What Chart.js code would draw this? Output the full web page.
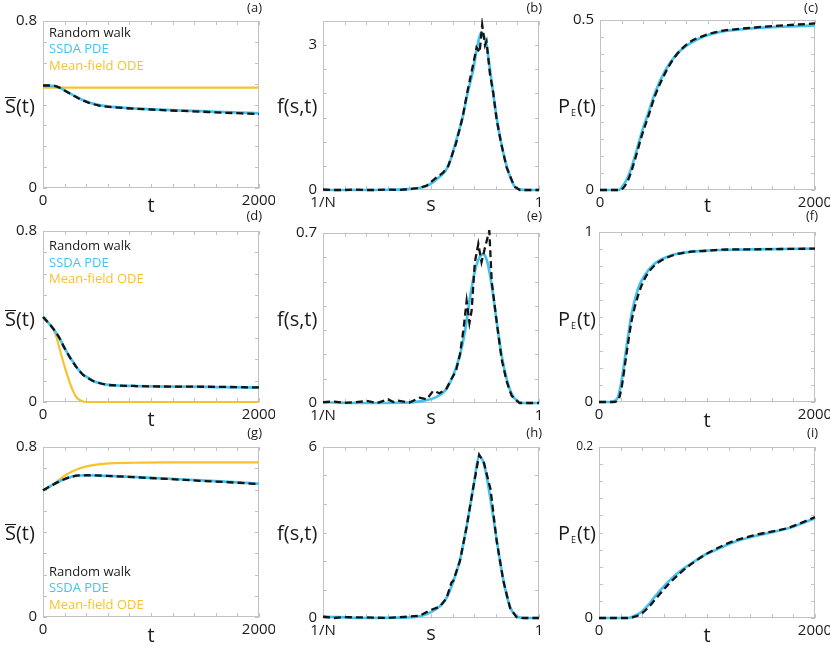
<!DOCTYPE html>
<html><head><meta charset="utf-8">
<script src="https://cdn.jsdelivr.net/npm/chart.js@4.4.1/dist/chart.umd.min.js"></script>
<style>
html,body{margin:0;padding:0;background:#fff}
#wrap{position:relative;width:830px;height:649px;overflow:hidden;font-family:'Open Sans',sans-serif;color:#1a1a1a}
#wrap canvas{position:absolute}
.tx{position:absolute;white-space:nowrap;line-height:1}
.ov{display:inline-block;border-top:1.4px solid #1a1a1a;line-height:0.72em;padding-top:1px}
sub{font-size:9px;vertical-align:-3px;line-height:0;margin:0 1px 0 1px}
</style></head><body><div id="wrap"></div>
<script>
// ---------------- DATA ----------------
const legendNames = ['Random walk', 'SSDA PDE', 'Mean-field ODE'];
const panelTags = ['(a)', '(b)', '(c)', '(d)', '(e)', '(f)', '(g)', '(h)', '(i)'];
const tTickValues = [0, 2000];
const tTickText = ['0', '2000'];
const sTickValues = [0, 1];
const sTickText = ['1/N', '1'];

// (a) mean switching rate vs t
const aT    = [0, 50, 108, 160, 216, 278, 330, 371, 420, 464, 520, 587, 700, 835, 1000, 1144, 1300, 1453, 1600, 1762, 1900, 2000];
const aSSDA = [0.489, 0.490, 0.488, 0.479, 0.463, 0.445, 0.431, 0.421, 0.411, 0.404, 0.397, 0.392, 0.386, 0.381, 0.377, 0.374, 0.371, 0.368, 0.365, 0.362, 0.360, 0.358];
const aWalk = [0.491, 0.491, 0.489, 0.479, 0.462, 0.444, 0.429, 0.419, 0.409, 0.402, 0.395, 0.390, 0.385, 0.380, 0.376, 0.372, 0.369, 0.366, 0.362, 0.359, 0.356, 0.354];
const aOdeT = [0, 2000];
const aODE  = [0.481, 0.481];

// (b) distribution f(s,t)
const bS     = [0, 0.15, 0.3, 0.4, 0.44, 0.479, 0.525, 0.58, 0.615, 0.646, 0.669, 0.696, 0.711, 0.734, 0.757, 0.773, 0.788, 0.804, 0.824, 0.85, 0.886, 0.912, 0.95, 1];
const bSSDA  = [0, 0, 0.005, 0.02, 0.04, 0.08, 0.22, 0.5, 1.0, 1.5, 2.0, 2.5, 2.9, 3.26, 3.0, 2.5, 2.0, 1.5, 1.0, 0.5, 0.08, 0.01, 0, 0];
const bWalkS = [0, 0.05, 0.1, 0.15, 0.2, 0.25, 0.3, 0.35, 0.4, 0.44, 0.48, 0.52, 0.556, 0.58, 0.615, 0.646, 0.669, 0.696, 0.711, 0.725, 0.737, 0.75, 0.757, 0.773, 0.788, 0.804, 0.824, 0.85, 0.886, 0.912, 0.95, 1];
const bWalk  = [0.01, 0, 0, 0.01, 0, 0, 0.01, 0, 0.02, 0.04, 0.09, 0.24, 0.36, 0.5, 0.95, 1.5, 2.05, 2.62, 2.95, 2.85, 3.42, 3.0, 3.08, 2.4, 2.02, 1.45, 0.98, 0.47, 0.07, 0, 0, 0];

// (c) P_E(t)
const cT    = [0, 100, 171, 202, 264, 326, 388, 450, 512, 605, 698, 822, 977, 1132, 1300, 1442, 1600, 1752, 2000];
const cSSDA = [0, 0, 0, 0.007, 0.041, 0.100, 0.169, 0.227, 0.286, 0.350, 0.394, 0.428, 0.453, 0.466, 0.472, 0.476, 0.479, 0.481, 0.484];
const cWalk = [0, 0, 0, 0.002, 0.031, 0.090, 0.159, 0.217, 0.277, 0.343, 0.392, 0.432, 0.455, 0.468, 0.474, 0.478, 0.482, 0.485, 0.490];

// (d)
const dT    = [0, 93, 155, 185, 216, 247, 278, 309, 340, 371, 420, 464, 520, 587, 700, 835, 1000, 1300, 1600, 2000];
const dSSDA = [0.398, 0.344, 0.297, 0.266, 0.238, 0.211, 0.188, 0.164, 0.145, 0.128, 0.113, 0.098, 0.089, 0.081, 0.077, 0.075, 0.073, 0.072, 0.070, 0.067];
const dWalk = [0.398, 0.344, 0.297, 0.266, 0.237, 0.210, 0.187, 0.163, 0.144, 0.127, 0.111, 0.098, 0.089, 0.081, 0.077, 0.075, 0.073, 0.072, 0.071, 0.068];
const dOdeT = [0, 93, 124, 170, 216, 263, 309, 355, 402, 500, 2000];
const dODE  = [0.398, 0.344, 0.305, 0.219, 0.140, 0.070, 0.023, 0.006, 0, 0, 0];

// (e)
const eS     = [0, 0.2, 0.35, 0.448, 0.526, 0.572, 0.603, 0.634, 0.657, 0.68, 0.703, 0.723, 0.742, 0.76, 0.781, 0.804, 0.827, 0.85, 0.873, 0.9, 0.927, 1];
const eSSDA  = [0.003, 0, 0.001, 0.007, 0.025, 0.059, 0.114, 0.197, 0.293, 0.431, 0.542, 0.597, 0.613, 0.583, 0.486, 0.335, 0.197, 0.100, 0.039, 0.007, 0, 0];
const eWalkS = [0, 0.054, 0.1, 0.209, 0.25, 0.301, 0.325, 0.348, 0.4, 0.448, 0.48, 0.51, 0.54, 0.572, 0.595, 0.615, 0.634, 0.65, 0.665, 0.678, 0.688, 0.703, 0.719, 0.734, 0.75, 0.77, 0.781, 0.804, 0.827, 0.85, 0.873, 0.91, 0.95, 1];
const eWalk  = [0.004, 0.006, 0, 0.008, 0, 0.015, 0.004, 0.010, 0.002, 0.022, 0.015, 0.050, 0.040, 0.060, 0.100, 0.130, 0.200, 0.300, 0.420, 0.330, 0.380, 0.580, 0.655, 0.580, 0.640, 0.710, 0.500, 0.335, 0.180, 0.090, 0.030, 0, 0, 0];

// (f)
const fT    = [0, 100, 130, 176, 207, 253, 300, 362, 423, 516, 671, 825, 1000, 1135, 1400, 1700, 2000];
const fSSDA = [0, 0, 0.003, 0.029, 0.118, 0.314, 0.510, 0.667, 0.745, 0.814, 0.863, 0.882, 0.890, 0.894, 0.898, 0.900, 0.902];
const fWalk = [0, 0, 0, 0.010, 0.078, 0.275, 0.470, 0.627, 0.725, 0.804, 0.860, 0.882, 0.890, 0.896, 0.898, 0.900, 0.902];

// (g)
const gT    = [0, 93, 185, 278, 402, 587, 835, 1144, 1453, 1762, 2000];
const gSSDA = [0.596, 0.623, 0.646, 0.662, 0.667, 0.664, 0.659, 0.651, 0.643, 0.635, 0.627];
const gWalk = [0.596, 0.623, 0.646, 0.662, 0.667, 0.664, 0.658, 0.650, 0.641, 0.633, 0.625];
const gODE  = [0.596, 0.623, 0.659, 0.687, 0.709, 0.722, 0.726, 0.728, 0.728, 0.728, 0.728];

// (h)
const hS     = [0, 0.2, 0.35, 0.448, 0.495, 0.541, 0.572, 0.603, 0.634, 0.665, 0.696, 0.723, 0.745, 0.773, 0.804, 0.835, 0.866, 0.896, 0.927, 1];
const hSSDA  = [0.05, 0, 0.01, 0.06, 0.19, 0.41, 0.71, 1.28, 2.04, 3.22, 4.58, 5.65, 5.41, 4.29, 2.75, 1.33, 0.39, 0.06, 0, 0];
const hWalkS = [0, 0.05, 0.1, 0.2, 0.3, 0.4, 0.448, 0.495, 0.541, 0.572, 0.595, 0.603, 0.634, 0.665, 0.696, 0.723, 0.745, 0.776, 0.804, 0.835, 0.866, 0.896, 0.927, 1];
const hWalk  = [0.05, 0, 0.03, 0.02, 0, 0.05, 0.08, 0.27, 0.40, 0.70, 1.25, 1.30, 2.00, 3.20, 4.60, 5.73, 5.45, 4.50, 2.70, 1.30, 0.35, 0.03, 0, 0];

// (i)
const iT    = [0, 150, 269, 331, 393, 454, 516, 640, 764, 887, 995, 1134, 1258, 1443, 1753, 2000];
const iSSDA = [0, 0, 0, 0.0027, 0.0070, 0.0149, 0.0247, 0.0423, 0.0560, 0.0665, 0.0748, 0.0826, 0.0892, 0.0959, 0.1049, 0.1166];
const iWalk = [0, 0, 0, 0.0015, 0.0050, 0.0120, 0.0210, 0.0390, 0.0540, 0.0660, 0.0750, 0.0840, 0.0905, 0.0970, 0.1055, 0.1180];

// ---------------- STYLE / LAYOUT ----------------
const COL = {walk: '#141414', ssda: '#45c3ef', ode: '#f8c22f', text: '#1a1a1a', frame: '#c2c2c2'};
Chart.defaults.font.family = "'Open Sans', sans-serif";

const tAxis = {min: 0, max: 2000, step: 200, vals: tTickValues, text: tTickText};
const sAxis = {min: 0, max: 1, step: 0.1, vals: sTickValues, text: sTickText};

const panels = [
  {left: 0,   top: 0,   w: 275, h: 215, area: [43, 21, 259, 188], x: tAxis,
   y: {min: 0, max: 0.8, step: 0.1, vals: [0, 0.8], text: ['0', '0.8']},
   series: [['walk', aT, aWalk], ['ssda', aT, aSSDA], ['ode', aOdeT, aODE]]},
  {left: 275, top: 0,   w: 280, h: 215, area: [48, 21, 264, 190], x: sAxis,
   y: {min: 0, max: 3.5, step: 0.5, vals: [0, 3], text: ['0', '3']},
   series: [['walkN', bWalkS, bWalk], ['ssda', bS, bSSDA]]},
  {left: 555, top: 0,   w: 275, h: 215, area: [45, 20, 260, 190], x: tAxis,
   y: {min: 0, max: 0.5, step: 0.05, vals: [0, 0.5], text: ['0', '0.5']},
   series: [['walk', cT, cWalk], ['ssda', cT, cSSDA]]},
  {left: 0,   top: 215, w: 275, h: 215, area: [43, 16, 259, 187], x: tAxis,
   y: {min: 0, max: 0.8, step: 0.1, vals: [0, 0.8], text: ['0', '0.8']},
   series: [['walk', dT, dWalk], ['ssda', dT, dSSDA], ['ode', dOdeT, dODE]]},
  {left: 275, top: 215, w: 280, h: 215, area: [48, 18, 264, 188], x: sAxis,
   y: {min: 0, max: 0.7, step: 0.1, vals: [0, 0.7], text: ['0', '0.7']},
   series: [['walkN', eWalkS, eWalk], ['ssda', eS, eSSDA]]},
  {left: 555, top: 215, w: 275, h: 215, area: [44, 17, 260, 187], x: tAxis,
   y: {min: 0, max: 1, step: 0.1, vals: [0, 1], text: ['0', '1']},
   series: [['walk', fT, fWalk], ['ssda', fT, fSSDA]]},
  {left: 0,   top: 430, w: 275, h: 219, area: [43, 17, 259, 187], x: tAxis,
   y: {min: 0, max: 0.8, step: 0.1, vals: [0, 0.8], text: ['0', '0.8']},
   series: [['walk', gT, gWalk], ['ssda', gT, gSSDA], ['ode', gT, gODE]]},
  {left: 275, top: 430, w: 280, h: 219, area: [48, 17, 264, 188], x: sAxis,
   y: {min: 0, max: 6, step: 1, vals: [0, 6], text: ['0', '6']},
   series: [['walkN', hWalkS, hWalk], ['ssda', hS, hSSDA]]},
  {left: 555, top: 430, w: 275, h: 219, area: [44, 17, 260, 188], x: tAxis,
   y: {min: 0, max: 0.2, step: 0.02, vals: [0, 0.2], text: ['0', '0.2'], smallTop: true},
   series: [['walk', iT, iWalk], ['ssda', iT, iSSDA]]}
];

const seriesStyle = {
  walk:  {borderColor: COL.walk, borderWidth: 2.3, borderDash: [7, 4], cubicInterpolationMode: 'monotone'},
  walkN: {borderColor: COL.walk, borderWidth: 2.3, borderDash: [7, 4], tension: 0},
  ssda:  {borderColor: COL.ssda, borderWidth: 2.7, cubicInterpolationMode: 'monotone'},
  ode:   {borderColor: COL.ode,  borderWidth: 2.2, cubicInterpolationMode: 'monotone'}
};

const framePlugin = {
  id: 'frame',
  beforeDatasetsDraw(chart) {
    const {ctx, chartArea: a, scales: {x, y}} = chart;
    ctx.save();
    ctx.strokeStyle = COL.frame;
    ctx.lineWidth = 1;
    ctx.strokeRect(a.left + 0.5, a.top + 0.5, a.right - a.left - 1, a.bottom - a.top - 1);
    ctx.beginPath();
    const L = 4;
    x.ticks.forEach(t => {
      const p = Math.round(x.getPixelForValue(t.value)) + 0.5;
      ctx.moveTo(p, a.top); ctx.lineTo(p, a.top + L);
      ctx.moveTo(p, a.bottom); ctx.lineTo(p, a.bottom - L);
    });
    y.ticks.forEach(t => {
      const p = Math.round(y.getPixelForValue(t.value)) + 0.5;
      ctx.moveTo(a.left, p); ctx.lineTo(a.left + L, p);
      ctx.moveTo(a.right, p); ctx.lineTo(a.right - L, p);
    });
    ctx.stroke();
    ctx.restore();
  }
};

function labelFor(ax, v) {
  const k = ax.vals.findIndex(u => Math.abs(u - v) < 1e-9);
  return k >= 0 ? ax.text[k] : '';
}

const wrap = document.getElementById('wrap');

function makeChart(p) {
  const c = document.createElement('canvas');
  c.width = p.w; c.height = p.h;
  c.style.left = p.left + 'px'; c.style.top = p.top + 'px';
  c.style.width = p.w + 'px'; c.style.height = p.h + 'px';
  wrap.appendChild(c);
  const [L, T, R, B] = p.area;
  const datasets = p.series.map(([kind, xs, ys]) => Object.assign({
    data: xs.map((xv, i) => ({x: xv, y: ys[i]})),
    pointRadius: 0, fill: false, clip: 3
  }, seriesStyle[kind]));
  new Chart(c, {
    type: 'line',
    data: {datasets},
    options: {
      responsive: false, animation: false, devicePixelRatio: 1,
      layout: {padding: {left: 0, top: T, right: p.w - R, bottom: 0}},
      plugins: {legend: {display: false}, tooltip: {enabled: false}},
      scales: {
        x: {
          type: 'linear', min: p.x.min, max: p.x.max,
          grid: {display: false, drawTicks: false}, border: {display: false},
          ticks: {stepSize: p.x.step, autoSkip: false, maxRotation: 0, minRotation: 0, padding: 4,
                  color: COL.text, font: {size: 15}, callback: v => labelFor(p.x, v)},
          afterFit: s => { s.height = p.h - B; s.paddingLeft = 0; s.paddingRight = 0; }
        },
        y: {
          type: 'linear', min: p.y.min, max: p.y.max,
          grid: {display: false, drawTicks: false}, border: {display: false},
          ticks: {stepSize: p.y.step, autoSkip: false, padding: 6, color: COL.text,
                  font: ctx => ({size: (p.y.smallTop && ctx.tick && Math.abs(ctx.tick.value - p.y.max) < 1e-9) ? 12 : 15}),
                  callback: v => labelFor(p.y, v)},
          afterFit: s => { s.width = L; s.paddingTop = 0; s.paddingBottom = 0; }
        }
      }
    },
    plugins: [framePlugin]
  });
}
panels.forEach(makeChart);

// ---------------- TEXT ----------------
function txt(html, x, base, size, align, color) {
  const d = document.createElement('div');
  d.className = 'tx';
  d.innerHTML = html;
  d.style.fontSize = size + 'px';
  d.style.top = (base - 0.888 * size) + 'px';
  if (align === 'center') { d.style.left = x + 'px'; d.style.transform = 'translateX(-50%)'; }
  else if (align === 'right') { d.style.right = (830 - x) + 'px'; }
  else d.style.left = x + 'px';
  if (color) d.style.color = color;
  wrap.appendChild(d);
}

const yTitles = ['<span class="ov">S</span>(t)', 'f(s,t)', 'P<sub>E</sub>(t)'];
const yTitleX = [5, 277, 558];
const yTitleBase = [114, 327, 541];
const xTitles = ['t', 's', 't'];
const xTitleBase = [[213, 212, 213], [427, 425, 428], [643, 641, 643]];
const tagRight = [262, 542, 818];
const tagBase = [13, 221, 438];

for (let r = 0; r < 3; r++) {
  for (let c = 0; c < 3; c++) {
    const p = panels[r * 3 + c];
    txt(yTitles[c], yTitleX[c], yTitleBase[r], 20, 'left');
    const cx = p.left + (p.area[0] + p.area[2]) / 2;
    txt(xTitles[c], cx, xTitleBase[r][c], 20, 'center');
    txt(panelTags[r * 3 + c], tagRight[c], tagBase[r], 13, 'right');
  }
}

const legendColors = [COL.text, COL.ssda, COL.ode];
const legendBases = [[37.3, 54, 70.7], [250.7, 267.3, 283.3], [576.7, 592.7, 609.3]];
legendBases.forEach(bs => bs.forEach((b, k) => txt(legendNames[k], 49, b, 13, 'left', legendColors[k])));
</script>
</body></html>
